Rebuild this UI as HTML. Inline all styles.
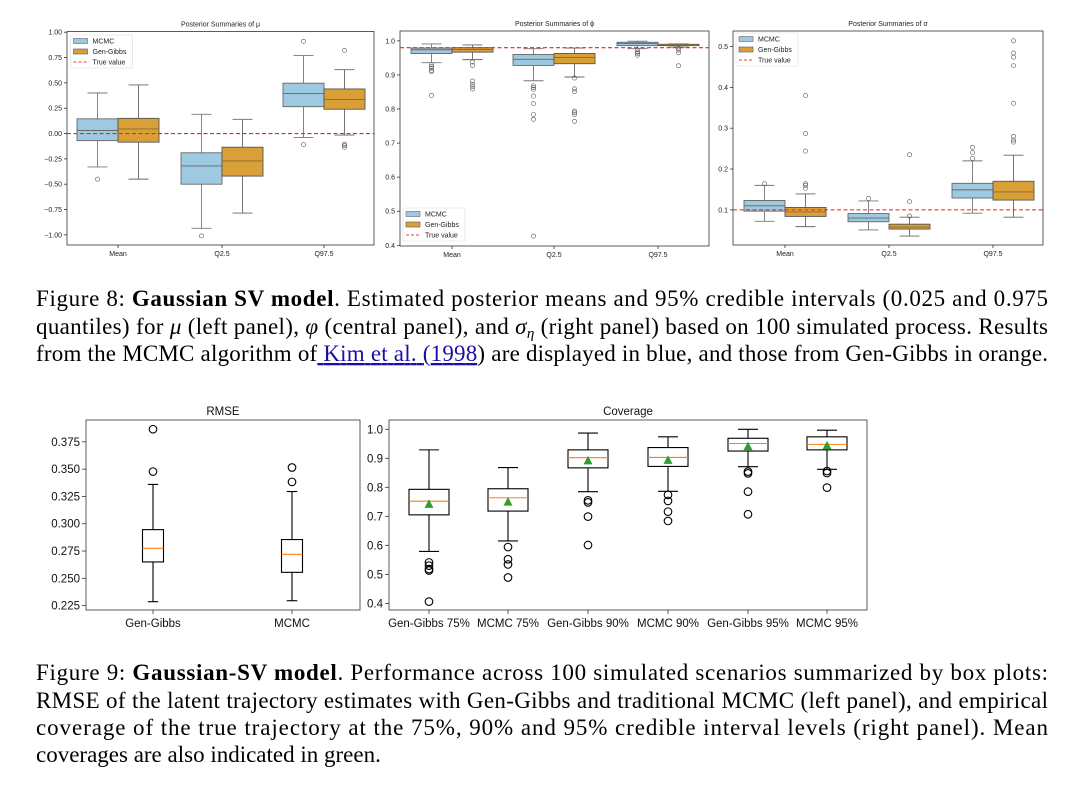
<!DOCTYPE html>
<html><head><meta charset="utf-8"><style>
html,body{margin:0;padding:0;background:#fff;}
svg{display:block;}
.tk{font-family:"Liberation Sans",sans-serif;font-size:7px;fill:#222;}
.tk2{font-family:"Liberation Sans",sans-serif;font-size:11.5px;fill:#111;}
.cap{font-family:"Liberation Serif",serif;font-size:23px;fill:#000;}
</style></head><body>
<svg id="fig" width="1075" height="802" viewBox="0 0 1075 802" xmlns="http://www.w3.org/2000/svg">
<text class="cap" x="36" y="306" textLength="1012" lengthAdjust="spacing">Figure 8: <tspan font-weight="bold">Gaussian SV model</tspan>. Estimated posterior means and 95% credible intervals (0.025 and 0.975</text>
<text class="cap" x="36" y="334" textLength="1012" lengthAdjust="spacing">quantiles) for <tspan font-style="italic">μ</tspan> (left panel), <tspan font-style="italic">φ</tspan> (central panel), and <tspan font-style="italic">σ</tspan><tspan font-style="italic" font-size="15" dy="4">η</tspan><tspan dy="-4"> (right panel) based on 100 simulated process. Results</tspan></text>
<text class="cap" x="36" y="361" textLength="1012" lengthAdjust="spacing">from the MCMC algorithm of<tspan fill="#1a0dab" text-decoration="underline"> Kim et al. (1998</tspan>) are displayed in blue, and those from Gen-Gibbs in orange.</text>
<text class="cap" x="36" y="680" textLength="1012" lengthAdjust="spacing">Figure 9: <tspan font-weight="bold">Gaussian-SV model</tspan>. Performance across 100 simulated scenarios summarized by box plots:</text>
<text class="cap" x="36" y="708" textLength="1012" lengthAdjust="spacing">RMSE of the latent trajectory estimates with Gen-Gibbs and traditional MCMC (left panel), and empirical</text>
<text class="cap" x="36" y="735" textLength="1012" lengthAdjust="spacing">coverage of the true trajectory at the 75%, 90% and 95% credible interval levels (right panel).  Mean</text>
<text class="cap" x="36" y="762">coverages are also indicated in green.</text>
</svg>
<script>
// ---- data ----
const topCategories = ["Mean","Q2.5","Q97.5"];
// stats: [lowWhisker, q1, median, q3, highWhisker]
const muMCMC = [[-0.33,-0.07,0.03,0.145,0.40],[-0.935,-0.50,-0.32,-0.19,0.19],[-0.04,0.265,0.395,0.497,0.77]];
const muGG = [[-0.45,-0.085,0.045,0.15,0.48],[-0.785,-0.42,-0.27,-0.135,0.14],[-0.015,0.24,0.335,0.44,0.63]];
const muMCMCOut = [[-0.45],[-1.01],[0.91,-0.11]];
const muGGOut = [[],[],[0.82,-0.105,-0.12,-0.135]];
const muTrue = 0.0;
const muTicks = [1.0,0.75,0.5,0.25,0.0,-0.25,-0.5,-0.75,-1.0];
const muTickLabels = ["1.00","0.75","0.50","0.25","0.00","\u22120.25","\u22120.50","\u22120.75","\u22121.00"];

const phiMCMC = [[0.936,0.963,0.974,0.979,0.991],[0.883,0.928,0.946,0.96,0.977],[0.977,0.986,0.992,0.996,0.999]];
const phiGG = [[0.945,0.967,0.975,0.98,0.988],[0.894,0.933,0.951,0.963,0.979],[0.982,0.986,0.989,0.990,0.991]];
const phiMCMCOut = [[0.93,0.925,0.92,0.913,0.91,0.84],[0.868,0.863,0.858,0.838,0.816,0.784,0.77,0.427],[0.974,0.967,0.963,0.958]];
const phiGGOut = [[0.938,0.928,0.882,0.873,0.866,0.859],[0.891,0.859,0.851,0.794,0.789,0.784,0.764],[0.979,0.973,0.965,0.927]];
const phiTrue = 0.98;
const phiTicks = [1.0,0.9,0.8,0.7,0.6,0.5,0.4];
const phiTickLabels = ["1.0","0.9","0.8","0.7","0.6","0.5","0.4"];

const sigMCMC = [[0.072,0.097,0.110,0.123,0.160],[0.051,0.071,0.080,0.091,0.122],[0.092,0.129,0.149,0.165,0.22]];
const sigGG = [[0.059,0.084,0.095,0.106,0.139],[0.036,0.053,0.058,0.065,0.082],[0.082,0.124,0.144,0.170,0.234]];
const sigMCMCOut = [[0.164],[0.128],[0.253,0.240,0.226]];
const sigGGOut = [[0.38,0.287,0.244,0.164,0.160,0.153],[0.235,0.12,0.085],[0.514,0.484,0.474,0.453,0.361,0.280,0.271,0.266]];
const sigTrue = 0.1;
const sigTicks = [0.5,0.4,0.3,0.2,0.1];
const sigTickLabels = ["0.5","0.4","0.3","0.2","0.1"];

const rmseCategories = ["Gen-Gibbs","MCMC"];
const rmseStats = [[0.2286,0.265,0.2775,0.2946,0.336],[0.2295,0.2555,0.272,0.2855,0.3295]];
const rmseOut = [[0.3866,0.3478],[0.3515,0.3383]];
const rmseTicks = [0.375,0.35,0.325,0.3,0.275,0.25,0.225];
const rmseTickLabels = ["0.375","0.350","0.325","0.300","0.275","0.250","0.225"];

const covCategories = ["Gen-Gibbs 75%","MCMC 75%","Gen-Gibbs 90%","MCMC 90%","Gen-Gibbs 95%","MCMC 95%"];
const covStats = [[0.579,0.705,0.752,0.793,0.929],[0.615,0.718,0.764,0.795,0.868],[0.785,0.867,0.902,0.929,0.987],[0.786,0.872,0.903,0.937,0.974],[0.871,0.925,0.951,0.969,1.0],[0.862,0.929,0.948,0.974,0.997]];
const covMeans = [0.741,0.749,0.891,0.893,0.94,0.943];
const covOut = [[0.541,0.530,0.518,0.513,0.406],[0.594,0.552,0.534,0.489],[0.755,0.748,0.699,0.601],[0.774,0.753,0.716,0.684],[0.854,0.848,0.785,0.707],[0.856,0.849,0.799]];
const covTicks = [1.0,0.9,0.8,0.7,0.6,0.5,0.4];
const covTickLabels = ["1.0","0.9","0.8","0.7","0.6","0.5","0.4"];

// ---- drawing ----
const svg = document.getElementById('fig');
const NS = 'http://www.w3.org/2000/svg';
function mk(tag, attrs, parent){
  const e = document.createElementNS(NS, tag);
  for (const k in attrs) e.setAttribute(k, attrs[k]);
  (parent||svg).appendChild(e);
  return e;
}
function axisY(p){ return v => p.top + (p.vmax - v)/(p.vmax - p.vmin)*(p.bottom - p.top); }

function frame(p, name, title, tclass, titleSize){
  const g = mk('g', {});
  
  
  const r = mk('rect', {x:p.left, y:p.top, width:p.right-p.left, height:p.bottom-p.top, fill:'none', stroke:'#333', 'stroke-width':0.8}, g);
  
  
  const t = mk('text', {x:(p.left+p.right)/2, y:p.top-5, 'text-anchor':'middle', class:tclass, 'font-size':titleSize}, g);
  t.textContent = title;
  
  
  return g;
}
function yTicks(g, p, ticks, labels, cls, len){
  const y = axisY(p);
  ticks.forEach((v,i)=>{
    mk('line', {x1:p.left-len, x2:p.left, y1:y(v), y2:y(v), stroke:'#333', 'stroke-width':0.8}, g);
    const t = mk('text', {x:p.left-len-2, y:y(v)+(cls==='tk'?2.5:4), 'text-anchor':'end', class:cls}, g);
    t.textContent = labels[i];
    
    
  });
}
function xLabels(g, p, xs, cats, cls, len, dy){
  xs.forEach((x,i)=>{
    mk('line', {x1:x, x2:x, y1:p.bottom, y2:p.bottom+len, stroke:'#333', 'stroke-width':0.8}, g);
    const t = mk('text', {x:x, y:p.bottom+dy, 'text-anchor':'middle', class:cls}, g);
    t.textContent = cats[i];
    
    
  });
}
function box(g, p, cx, w, cap, s, outs, st, name){
  const y = axisY(p);
  const b = mk('g', {}, g);
  
  
  mk('line', {x1:cx, x2:cx, y1:y(s[0]), y2:y(s[1]), stroke:st.wc, 'stroke-width':st.lw}, b);
  mk('line', {x1:cx, x2:cx, y1:y(s[3]), y2:y(s[4]), stroke:st.wc, 'stroke-width':st.lw}, b);
  mk('line', {x1:cx-cap/2, x2:cx+cap/2, y1:y(s[0]), y2:y(s[0]), stroke:st.wc, 'stroke-width':st.lw}, b);
  mk('line', {x1:cx-cap/2, x2:cx+cap/2, y1:y(s[4]), y2:y(s[4]), stroke:st.wc, 'stroke-width':st.lw}, b);
  mk('rect', {x:cx-w/2, y:y(s[3]), width:w, height:Math.max(0.5,y(s[1])-y(s[3])), fill:st.fill, stroke:st.ec, 'stroke-width':st.lw}, b);
  mk('line', {x1:cx-w/2, x2:cx+w/2, y1:y(s[2]), y2:y(s[2]), stroke:st.mc, 'stroke-width':st.lw}, b);
  outs.forEach(v=>{
    const c = mk('circle', {cx:cx, cy:y(v), r:st.r, fill:'none', stroke:st.oc, 'stroke-width':st.olw}, b);
    
    
  });
}
const sBlue = {fill:'#9ecae1', ec:'#666', wc:'#777', mc:'#666', oc:'#555', lw:0.9, r:2.1, olw:0.6};
const sOrange = {fill:'#d9a037', ec:'#555', wc:'#666', mc:'#8a6a30', oc:'#555', lw:0.9, r:2.1, olw:0.6};

function legend(g, x, y, name){
  const L = mk('g', {}, g);
  
  
  mk('rect', {x:x, y:y, width:62, height:33, fill:'#fff', stroke:'#ddd', 'stroke-width':0.6, rx:1.5}, L);
  mk('rect', {x:x+3, y:y+3.5, width:14, height:5, fill:'#9ecae1', stroke:'#666', 'stroke-width':0.6}, L);
  mk('rect', {x:x+3, y:y+14, width:14, height:5, fill:'#d9a037', stroke:'#555', 'stroke-width':0.6}, L);
  mk('line', {x1:x+3, x2:x+17, y1:y+27, y2:y+27, stroke:'#e8403a', 'stroke-width':0.9, 'stroke-dasharray':'3,2'}, L);
  const labs = ['MCMC','Gen-Gibbs','True value'];
  labs.forEach((s,i)=>{
    const t = mk('text', {x:x+22, y:y+8.5+i*10.5, class:'tk', 'font-size':6.5}, L);
    t.textContent = s;
    
    
  });
}

function topPanel(p, name, title, mc, gg, mo, go, tv, ticks, labels, legPos){
  const g = frame(p, name, title, 'tk', 7.5);
  yTicks(g, p, ticks, labels, 'tk', 3);
  xLabels(g, p, p.xs, topCategories, 'tk', 3, 11);
  topCategories.forEach((c,i)=>{
    box(g, p, p.xs[i]-20.5, 41, 20, mc[i], mo[i], sBlue, 'box-mcmc-'+c.toLowerCase());
    box(g, p, p.xs[i]+20.5, 41, 20, gg[i], go[i], sOrange, 'box-gengibbs-'+c.toLowerCase());
  });
  const y = axisY(p);
  const tl = mk('line', {x1:p.left, x2:p.right, y1:y(tv), y2:y(tv), stroke:'#ee2222', 'stroke-width':1.1, 'stroke-dasharray':'4,2.5'}, g);
  
  
  legend(g, legPos[0], legPos[1], 'legend');
}

const pMu = {left:67, right:374, top:31.5, bottom:245, vmin:-1.10, vmax:1.007, xs:[118,222,324]};
const pPhi = {left:400, right:709, top:31, bottom:246, vmin:0.398, vmax:1.029, xs:[452,554,658]};
const pSig = {left:733, right:1043, top:31, bottom:245, vmin:0.014, vmax:0.538, xs:[785,889,993]};
topPanel(pMu, 'mu-panel', 'Posterior Summaries of \u03bc', muMCMC, muGG, muMCMCOut, muGGOut, muTrue, muTicks, muTickLabels, [70.5,35]);
topPanel(pPhi, 'phi-panel', 'Posterior Summaries of \u03d5', phiMCMC, phiGG, phiMCMCOut, phiGGOut, phiTrue, phiTicks, phiTickLabels, [403,208]);
topPanel(pSig, 'sigma-panel', 'Posterior Summaries of \u03c3', sigMCMC, sigGG, sigMCMCOut, sigGGOut, sigTrue, sigTicks, sigTickLabels, [736,33]);

const sPlain = {fill:'none', ec:'#000', wc:'#000', mc:'#ff7f0e', oc:'#000', lw:1.1, r:3.8, olw:1.1};
const pR = {left:86, right:360, top:420, bottom:610, vmin:0.221, vmax:0.395, xs:[153,292]};
const gR = frame(pR, 'rmse-panel', 'RMSE', 'tk2', 12.5);
yTicks(gR, pR, rmseTicks, rmseTickLabels, 'tk2', 4);
xLabels(gR, pR, pR.xs, rmseCategories, 'tk2', 4, 17);
rmseCategories.forEach((c,i)=> box(gR, pR, pR.xs[i], 21, 10.5, rmseStats[i], rmseOut[i], sPlain, 'box-rmse-'+c.toLowerCase()));

const pC = {left:389, right:867, top:420, bottom:610, vmin:0.377, vmax:1.032, xs:[429,508,588,668,748,827]};
const gC = frame(pC, 'coverage-panel', 'Coverage', 'tk2', 12.5);
yTicks(gC, pC, covTicks, covTickLabels, 'tk2', 4);
xLabels(gC, pC, pC.xs, covCategories, 'tk2', 4, 17);
const yC = axisY(pC);
covCategories.forEach((c,i)=>{
  box(gC, pC, pC.xs[i], 40, 20, covStats[i], covOut[i], sPlain, 'box-coverage-'+i);
  const x = pC.xs[i], y = yC(covMeans[i]);
  const tri = mk('polygon', {points:`${x},${y-5} ${x-4.5},${y+3.5} ${x+4.5},${y+3.5}`, fill:'#2ca02c'}, gC);
  
  
});
</script>
</body></html>
